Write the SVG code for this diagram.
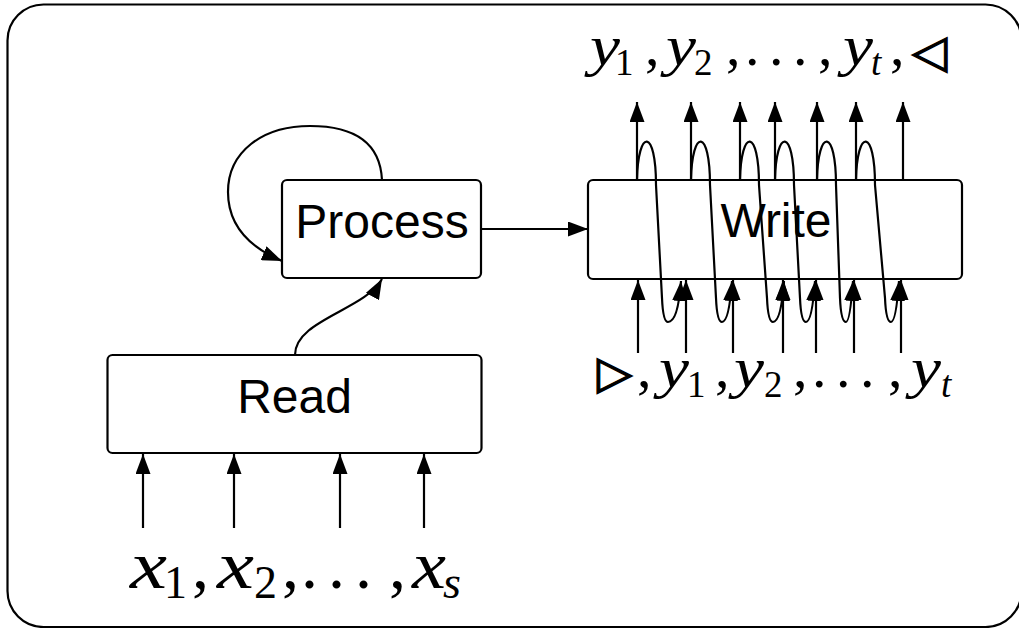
<svg xmlns="http://www.w3.org/2000/svg" width="1019" height="628" viewBox="0 0 1019 628">
  <style>
    .frame{fill:#fff;stroke:#000;stroke-width:2.2}
    .box{fill:#fff;stroke:#000;stroke-width:2.2}
    .lbl{font-family:"Liberation Sans",Arial,sans-serif;font-size:48px;text-anchor:middle;fill:#000}
    .edge{fill:none;stroke:#000;stroke-width:2.2}
    .arr{marker-end:url(#head)}
    .math text{font-family:"Liberation Serif","Times New Roman",serif;fill:#000}
    .it{font-style:italic}
    .xs{font-size:68px}
    .xsub{font-size:46px}
    .ys{font-size:58px}
    .ysub{font-size:37px}
    .math text.sym{font-family:"DejaVu Sans",sans-serif;font-size:46px;stroke:#000;stroke-width:1.3}
  </style>
  <defs>
    <marker id="head" viewBox="0 0 20 15" refX="20" refY="7.5" markerWidth="20" markerHeight="15" markerUnits="userSpaceOnUse" orient="auto">
      <path d="M0,0 L20,7.5 L0,15 Z" fill="#000"/>
    </marker>
  </defs>

  <rect class="frame" x="7.5" y="4.5" width="1014" height="622.5" rx="36"/>

  <g id="process">
    <rect class="box" x="282" y="180" width="199" height="98" rx="5"/>
    <text class="lbl" x="382" y="238">Process</text>
  </g>

  <g id="read">
    <rect class="box" x="107.5" y="355" width="374" height="98" rx="5"/>
    <text class="lbl" x="294.5" y="413">Read</text>
  </g>

  <g id="write">
    <rect class="box" x="588" y="180" width="374" height="99" rx="5"/>
    <text class="lbl" x="776" y="237">Write</text>
  </g>

  <!-- connectors, drawn over the boxes so the feedback loops show through Write -->
  <g id="connectors">
    <!-- Read inputs -->
    <path class="edge arr" d="M143,528 L143,454"/>
    <path class="edge arr" d="M234,528 L234,454"/>
    <path class="edge arr" d="M340,528 L340,454"/>
    <path class="edge arr" d="M424,528 L424,454"/>
    <!-- Read to Process -->
    <path class="edge arr" d="M295,355 C295,320 365,310 382,279"/>
    <!-- Process self loop -->
    <path class="edge arr" d="M382,180 C380,140 350,126 310,126 C262,126 228,152 228,192 C228,230 256,250 282,261"/>
    <!-- Process to Write -->
    <path class="edge arr" d="M481,229 L588,229"/>
    <!-- Write outputs -->
    <path class="edge arr" d="M637,180 L637,102"/>
    <path class="edge arr" d="M691,180 L691,102"/>
    <path class="edge arr" d="M740,180 L740,102"/>
    <path class="edge arr" d="M775,180 L775,102"/>
    <path class="edge arr" d="M817,180 L817,102"/>
    <path class="edge arr" d="M856,180 L856,102"/>
    <path class="edge arr" d="M903,180 L903,102"/>
    <!-- Write inputs -->
    <path class="edge arr" d="M638,353 L638,280"/>
    <path class="edge arr" d="M686,353 L686,280"/>
    <path class="edge arr" d="M733,353 L733,280"/>
    <path class="edge arr" d="M783,353 L783,280"/>
    <path class="edge arr" d="M816,353 L816,280"/>
    <path class="edge arr" d="M854,353 L854,280"/>
    <path class="edge arr" d="M901,353 L901,280"/>
    <!-- feedback: each output becomes the next input -->
    <path class="edge arr" d="M637,180 C638,128 656,128 656,185 L662,298 Q663,322 668,322 Q678,322 681,281"/>
    <path class="edge arr" d="M691,180 C692,128 710,128 710,185 L716,298 Q717,322 722,322 Q729,322 732,281"/>
    <path class="edge arr" d="M740,180 C741,128 759,128 759,185 L767,298 Q768,322 773,322 Q781,322 784,281"/>
    <path class="edge arr" d="M775,180 C776,128 794,128 794,185 L800,298 Q801,322 806,322 Q812,322 815,281"/>
    <path class="edge arr" d="M817,180 C818,128 836,128 836,185 L840,298 Q841,322 846,322 Q850,322 853,281"/>
    <path class="edge arr" d="M856,180 C857,128 875,128 875,185 L885,298 Q886,322 891,322 Q896,322 899,281"/>
  </g>

  <!-- input sequence x_1, x_2, ..., x_s -->
  <g id="input-seq" class="math">
    <text class="xs it" x="130" y="588" textLength="37" lengthAdjust="spacingAndGlyphs">x</text>
    <text class="xsub" x="164" y="598">1</text>
    <text class="xs" x="192" y="588">,</text>
    <text class="xs it" x="217" y="588" textLength="37" lengthAdjust="spacingAndGlyphs">x</text>
    <text class="xsub" x="254" y="598">2</text>
    <text class="xs" x="282" y="588">,</text>
    <text class="xs" x="301" y="588">.</text>
    <text class="xs" x="328" y="588">.</text>
    <text class="xs" x="355" y="588">.</text>
    <text class="xs" x="389" y="588">,</text>
    <text class="xs it" x="412" y="588" textLength="34" lengthAdjust="spacingAndGlyphs">x</text>
    <text class="xsub it" x="443" y="598">s</text>
  </g>

  <!-- output sequence y_1, y_2, ..., y_t, end mark -->
  <g id="output-seq" class="math">
    <text class="ys it" x="590" y="65" textLength="30" lengthAdjust="spacingAndGlyphs">y</text>
    <text class="ysub" x="615" y="75">1</text>
    <text class="ys" x="645" y="65">,</text>
    <text class="ys it" x="666" y="65" textLength="30" lengthAdjust="spacingAndGlyphs">y</text>
    <text class="ysub" x="694" y="75">2</text>
    <text class="ys" x="726" y="65">,</text>
    <text class="ys" x="745" y="65">.</text>
    <text class="ys" x="769" y="65">.</text>
    <text class="ys" x="793" y="65">.</text>
    <text class="ys" x="818" y="65">,</text>
    <text class="ys it" x="843" y="65" textLength="30" lengthAdjust="spacingAndGlyphs">y</text>
    <text class="ysub it" x="871" y="75">t</text>
    <text class="ys" x="890" y="65">,</text>
    <text class="sym" x="912" y="67">◁</text>
  </g>

  <!-- start mark followed by y_1, y_2, ..., y_t fed back into Write -->
  <g id="shifted-seq" class="math">
    <text class="sym" x="597" y="388">▷</text>
    <text class="ys" x="637" y="387">,</text>
    <text class="ys it" x="659" y="387" textLength="30" lengthAdjust="spacingAndGlyphs">y</text>
    <text class="ysub" x="687" y="397">1</text>
    <text class="ys" x="715" y="387">,</text>
    <text class="ys it" x="734" y="387" textLength="30" lengthAdjust="spacingAndGlyphs">y</text>
    <text class="ysub" x="764" y="397">2</text>
    <text class="ys" x="793" y="387">,</text>
    <text class="ys" x="812" y="387">.</text>
    <text class="ys" x="836" y="387">.</text>
    <text class="ys" x="860" y="387">.</text>
    <text class="ys" x="888" y="387">,</text>
    <text class="ys it" x="911" y="387" textLength="30" lengthAdjust="spacingAndGlyphs">y</text>
    <text class="ysub it" x="941" y="397">t</text>
  </g>
</svg>
